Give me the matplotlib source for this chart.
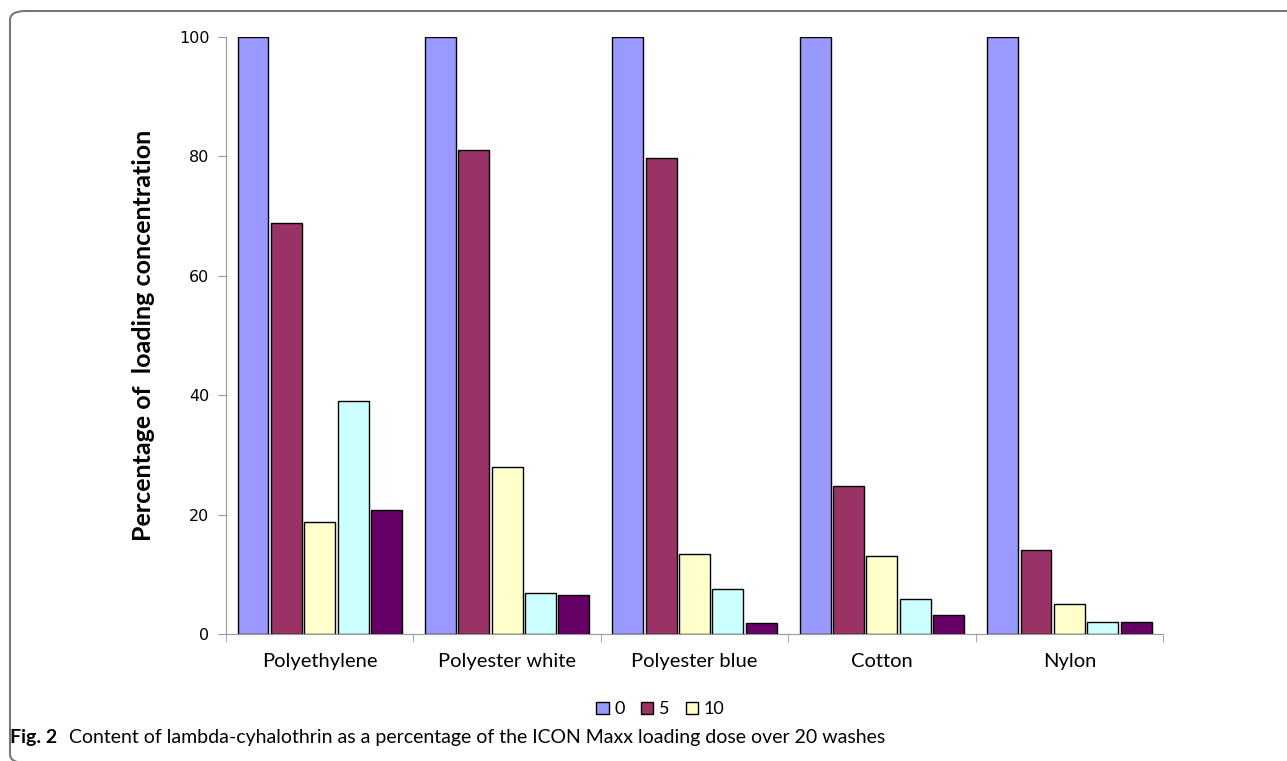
import numpy as np
import matplotlib
matplotlib.use("Agg")
import matplotlib.pyplot as plt
from matplotlib.patches import FancyBboxPatch

plt.rcParams['font.family'] = ['Lato', 'DejaVu Sans']

categories = ['Polyethylene', 'Polyester white', 'Polyester blue', 'Cotton', 'Nylon']
series_names = ['0', '5', '10', '15', '20']
washes_0 = [100, 100, 100, 100, 100]
washes_5 = [68.8, 81.0, 79.8, 24.8, 14.0]
washes_10 = [18.8, 27.9, 13.4, 13.0, 5.0]
washes_15 = [39.0, 6.9, 7.5, 5.9, 2.0]
washes_20 = [20.7, 6.6, 1.9, 3.1, 2.0]
colors = ['#9999FF', '#993366', '#FFFFCC', '#CCFFFF', '#660066']

series = [washes_0, washes_5, washes_10, washes_15, washes_20]

fig = plt.figure(figsize=(12.87, 7.61), dpi=100)
ax = fig.add_axes([0.1756, 0.1669, 0.7281, 0.7845])

x = np.arange(len(categories))
pitch = 0.178
width = 0.165
bars = []
for i, vals in enumerate(series):
    b = ax.bar(x + (i - 2) * pitch, vals, width, color=colors[i],
               edgecolor='black', linewidth=1.0, label=series_names[i])
    bars.append(b)

ax.set_xlim(-0.5, len(categories) - 0.5)
ax.set_ylim(0, 100)
ax.set_yticks([0, 20, 40, 60, 80, 100])
ax.set_xticks(x)
ax.set_xticklabels(categories, fontsize=14.5)
ax.set_xticks(np.arange(-0.5, len(categories)), minor=True)
ax.tick_params(axis='x', which='major', length=0, pad=14)
ax.tick_params(axis='x', which='minor', length=6, color='#999999')
ax.tick_params(axis='y', length=6, color='#999999', pad=6,
               labelsize=11.5, labelfontfamily='DejaVu Sans')
for s in ['top', 'right']:
    ax.spines[s].set_visible(False)
for s in ['left', 'bottom']:
    ax.spines[s].set_color('#999999')
ax.set_ylabel('Percentage of  loading concentration', fontsize=18,
              fontweight='bold')
ax.yaxis.set_label_coords(-0.076, 0.5)

# legend only shows the first three series, like the source
fig.legend(handles=bars[:3], labels=series_names[:3], loc='center',
           bbox_to_anchor=(0.513, 0.068), ncol=3, frameon=False,
           fontsize=13, handlelength=0.7, handleheight=0.7,
           handletextpad=0.3, columnspacing=0.9)

fig.text(0.008, 0.031, 'Fig. 2', fontsize=14, fontweight='bold',
         ha='left', va='center')
fig.text(0.0535, 0.031,
         'Content of lambda-cyhalothrin as a percentage of the ICON Maxx loading dose over 20 washes',
         fontsize=14, ha='left', va='center')

frame = FancyBboxPatch((10 / 1287, -2 / 761), 1.2, (750 + 2) / 761,
                       boxstyle='round,pad=0,rounding_size=0.012',
                       transform=fig.transFigure, fill=False,
                       edgecolor='#777777', linewidth=1.5, clip_on=False)
fig.patches.append(frame)

fig.savefig('out.png', dpi=100)
